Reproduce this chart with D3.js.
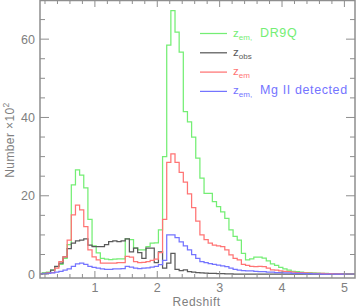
<!DOCTYPE html>
<html>
<head>
<meta charset="utf-8">
<script src="https://cdn.jsdelivr.net/npm/d3@7"></script>
<style>
  body { margin: 0; background: #fff; }
  text { font-family: "Liberation Sans", "DejaVu Sans", sans-serif; }
</style>
</head>
<body>
<div class="chart"></div>
<script>
var svgWidth = 357;
var svgHeight = 308;

var margin = { top: 0, right: 2, bottom: 30, left: 40 };

// histogram bins (redshift), counts in units of 100
var binStart = 0.09;
var binWidth = 0.0665;

var zemDR9Q = [0, 0.3, 0.5, 1.0, 1.9, 2.5, 4.0, 7.5, 22.8, 26.6,
  25.3, 22.0, 14.0, 7.2, 5.4, 4.0, 3.8, 3.7, 3.8, 3.9,
  3.9, 9.0, 8.8, 6.7, 6.2, 6.2, 7.0, 7.9, 8.0, 11.3,
  30.0, 58.5, 67.3, 61.8, 56.7, 41.5, 38.9, 35.0, 29.6, 24.5,
  20.6, 20.6, 18.5, 17.2, 15.9, 14.2, 11.3, 9.6, 8.7, 5.3,
  3.6, 3.9, 4.3, 4.3, 4.1, 3.4, 2.6, 2.2, 1.7, 1.3,
  1.0, 0.7, 0.6, 0.5, 0.4, 0.35, 0.3, 0.25, 0.2, 0.15,
  0.1, 0.1, 0.05, 0.05, 0];

var zobs = [0, 0.2, 0.3, 1.0, 2.0, 2.8, 4.4, 6.5, 7.9, 8.5,
  8.7, 9.0, 7.4, 7.0, 7.0, 7.0, 7.5, 8.3, 8.5, 8.3,
  8.5, 9.0, 5.7, 6.6, 5.5, 4.0, 6.6, 6.6, 2.9, 5.7,
  1.5, 2.8, 5.3, 1.2, 0.9, 1.1, 0.6, 0.5, 0.4, 0.3,
  0.25, 0.2, 0.15, 0.1, 0.1, 0.05, 0.05, 0, 0, 0,
  0, 0, 0, 0, 0, 0, 0, 0, 0, 0,
  0, 0, 0, 0, 0, 0, 0, 0, 0, 0,
  0, 0, 0, 0, 0];

var zem = [0, 0.1, 0.3, 0.4, 1.5, 3.2, 4.4, 8.7, 15.1, 17.6,
  16.4, 12.1, 6.2, 4.4, 3.6, 2.8, 2.8, 2.8, 2.8, 2.9,
  2.9, 4.5, 4.3, 3.2, 2.9, 3.0, 3.2, 3.5, 3.8, 5.5,
  14.0, 28.5, 30.7, 28.5, 26.0, 23.5, 20.5, 17.0, 13.5, 10.0,
  8.8, 7.9, 7.4, 7.2, 7.0, 6.2, 4.9, 4.0, 3.6, 2.5,
  2.2, 2.0, 1.9, 2.0, 1.9, 1.5, 1.1, 1.0, 0.8, 0.7,
  0.6, 0.5, 0.4, 0.35, 0.3, 0.25, 0.2, 0.15, 0.15, 0.1,
  0.1, 0.05, 0.05, 0, 0];

var zemMgII = [0, 0.1, 0.2, 0.3, 0.5, 0.7, 1.0, 1.3, 2.0, 2.6,
  2.8, 2.5, 2.0, 1.7, 1.5, 1.3, 1.2, 1.2, 1.3, 1.3,
  1.4, 2.0, 1.8, 1.5, 1.4, 1.5, 1.6, 1.8, 2.0, 2.4,
  3.5, 10.0, 10.0, 9.3, 8.2, 7.2, 6.2, 5.0, 4.0, 3.2,
  2.9, 2.7, 2.5, 2.3, 2.1, 1.9, 1.5, 1.2, 1.0, 0.9,
  0.8, 0.8, 0.7, 0.6, 0.6, 0.5, 0.5, 0.4, 0.4, 0.3,
  0.3, 0.2, 0.2, 0.15, 0.1, 0.1, 0.05, 0.05, 0, 0,
  0, 0, 0, 0, 0];

var seriesColors = ["#74ee74", "#5a5a5a", "#ff7474", "#7474ff"];

var xTicks = [1, 2, 3, 4, 5];
var yTicks = [0, 20, 40, 60];

var width = svgWidth - margin.left - margin.right;
var height = svgHeight - margin.top - margin.bottom;

var svg = d3.select(".chart")
  .append("svg")
  .attr("width", svgWidth)
  .attr("height", svgHeight);

var chartGroup = svg.append("g")
  .attr("transform", `translate(${margin.left}, ${margin.top})`);

var xScale = d3.scaleLinear().domain([0.12, 5.17]).range([0, width]);
var yScale = d3.scaleLinear().domain([-1, 70]).range([height, 0]);

var axisColor = "#8e8e8e";
var textColor = "#808080";

// step line through bin edges
function stepPoints(counts) {
  var pts = [];
  counts.forEach(function(c, i) {
    pts.push([binStart + i * binWidth, c]);
  });
  pts.push([binStart + counts.length * binWidth, 0]);
  pts.push([xScale.domain()[1], 0]);
  return pts;
}

var line = d3.line()
  .x(d => xScale(Math.max(d[0], xScale.domain()[0])))
  .y(d => yScale(d[1]))
  .curve(d3.curveStepAfter);

var allSeries = [zemDR9Q, zobs, zem, zemMgII];
allSeries.forEach(function(s, i) {
  chartGroup.append("path")
    .attr("d", line(stepPoints(s)))
    .attr("fill", "none")
    .attr("stroke", seriesColors[i])
    .attr("stroke-width", 1.25);
});

// frame
chartGroup.append("rect")
  .attr("x", 0).attr("y", 0.5)
  .attr("width", width)
  .attr("height", height - 0.5)
  .attr("fill", "none")
  .attr("stroke", axisColor)
  .attr("stroke-width", 1.5);

// x ticks (inward, bottom and top)
var xMinor = d3.range(1, 26).map(k => k * 0.2).filter(v => Math.abs(v - Math.round(v)) > 0.01);
function drawXTicks(vals, len) {
  vals.forEach(function(v) {
    var x = xScale(v);
    chartGroup.append("line")
      .attr("x1", x).attr("x2", x)
      .attr("y1", height).attr("y2", height - len)
      .attr("stroke", axisColor);
    chartGroup.append("line")
      .attr("x1", x).attr("x2", x)
      .attr("y1", 0).attr("y2", len)
      .attr("stroke", axisColor);
  });
}
drawXTicks(xMinor, 4);
drawXTicks(xTicks, 7);

// y ticks (inward, left and right)
var yMinor = d3.range(5, 70, 5).filter(v => v % 20 !== 0);
function drawYTicks(vals, len) {
  vals.forEach(function(v) {
    var y = yScale(v);
    chartGroup.append("line")
      .attr("x1", 0).attr("x2", len)
      .attr("y1", y).attr("y2", y)
      .attr("stroke", axisColor);
    chartGroup.append("line")
      .attr("x1", width).attr("x2", width - len)
      .attr("y1", y).attr("y2", y)
      .attr("stroke", axisColor);
  });
}
drawYTicks(yMinor, 5);
drawYTicks(yTicks, 9);

// tick labels
chartGroup.selectAll(".xlab")
  .data(xTicks)
  .enter().append("text")
  .attr("x", d => xScale(d))
  .attr("y", height + 14)
  .attr("text-anchor", "middle")
  .attr("font-size", "12.5px")
  .attr("fill", textColor)
  .text(d => d);

chartGroup.selectAll(".ylab")
  .data(yTicks)
  .enter().append("text")
  .attr("x", -5)
  .attr("y", d => yScale(d) + 4.5)
  .attr("text-anchor", "end")
  .attr("font-size", "12.5px")
  .attr("fill", textColor)
  .text(d => d);

// axis titles
chartGroup.append("text")
  .attr("x", xScale(2.63))
  .attr("y", height + 28)
  .attr("text-anchor", "middle")
  .attr("font-size", "12px")
  .attr("letter-spacing", "0.5px")
  .attr("fill", textColor)
  .text("Redshift");

var yTitle = svg.append("text")
  .attr("transform", "translate(14, 140) rotate(-90)")
  .attr("text-anchor", "middle")
  .attr("font-size", "12px")
  .attr("letter-spacing", "0.4px")
  .attr("fill", textColor);
yTitle.append("tspan").text("Number \u00d710");
yTitle.append("tspan").attr("dy", -5).attr("font-size", "8.5px").text("2");

// legend
var legendItems = [
  { sub: "em", tail: "DR9Q", color: seriesColors[0] },
  { sub: "obs", tail: "", color: seriesColors[1] },
  { sub: "em", tail: "", color: seriesColors[2] },
  { sub: "em", tail: "Mg II detected", color: seriesColors[3] }
];
var legendGroup = svg.append("g");
legendItems.forEach(function(d, i) {
  var y = 33.5 + i * 19.3;
  legendGroup.append("line")
    .attr("x1", 200).attr("x2", 227)
    .attr("y1", y).attr("y2", y)
    .attr("stroke", d.color)
    .attr("stroke-width", 1.25);
  var t = legendGroup.append("text")
    .attr("x", 233)
    .attr("y", y + 3)
    .attr("font-size", "11.5px")
    .attr("fill", d.color);
  t.append("tspan").text("z");
  t.append("tspan").attr("dy", 3).attr("font-size", "8px").text(d.sub);
  if (d.tail) {
    t.append("tspan").attr("font-size", "8px").text(",");
    t.append("tspan").attr("dy", -3).attr("dx", 8)
      .attr("font-size", "12.5px")
      .attr("letter-spacing", "0.6px")
      .text(d.tail);
  }
});
</script>
</body>
</html>
